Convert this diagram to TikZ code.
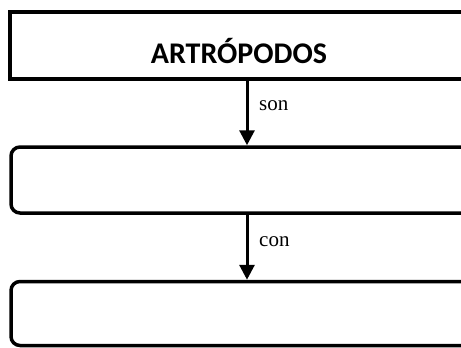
\documentclass[tikz,border=0pt]{standalone}
\usepackage{fontspec}
\setmainfont{Liberation Serif}
\newfontfamily\titlefont{Carlito}
\usetikzlibrary{arrows.meta}
\begin{document}
\begin{tikzpicture}[x=1pt,y=-1pt,
  sqbox/.style={draw=black,line width=4pt,rectangle,minimum width=460pt,minimum height=67pt,inner sep=0pt,fill=white},
  rbox/.style={draw=black,line width=3.5pt,rectangle,rounded corners=9pt,minimum width=470pt,inner sep=0pt,fill=white},
  arr/.style={draw=black,line width=3pt,-{Triangle[width=15pt,length=15pt]}},
  lbl/.style={font=\fontsize{21}{24}\selectfont,anchor=west,inner sep=0pt}]
\useasboundingbox[fill=white] (0,0) rectangle (461,348);
\node[sqbox] (top) at (240,45.5) {};
\node[font=\titlefont\bfseries\fontsize{30}{34}\selectfont,inner sep=0pt] (title) at (239,51.5) {ARTRÓPODOS};
\node[rbox,minimum height=66pt] (mid) at (246,180) {};
\node[rbox,minimum height=64pt] (bot) at (246,313.5) {};
\coordinate (ax) at (247,0);
\draw[arr] (top.south -| ax) -- (mid.north -| ax);
\draw[arr] (mid.south -| ax) -- (bot.north -| ax);
\node[lbl] (son) at (259,106) {son};
\node[lbl] (con) at (259,242) {con};
\end{tikzpicture}
\end{document}
